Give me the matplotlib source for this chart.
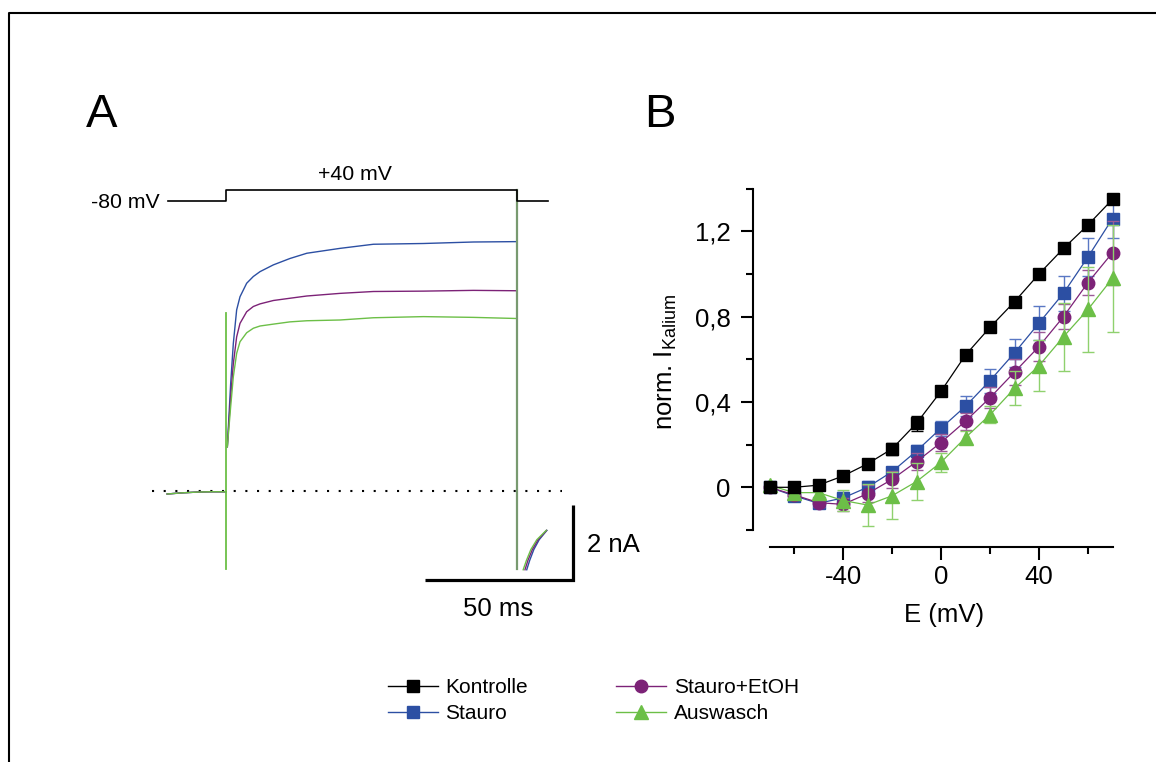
import numpy as np
import matplotlib.pyplot as plt
from matplotlib.lines import Line2D

plt.rcParams['font.family'] = ['Liberation Sans', 'DejaVu Sans']
plt.rcParams['mathtext.default'] = 'regular'

W, H = 1156, 762

# ---- panel A: current traces (ms, nA) ----
t_pre = [-19.9, -15.0, -10.0, -5.0, 0.0]
i_pre = [-0.08, -0.05, -0.03, -0.02, -0.02]

t_step = [0.45, 1.58, 2.48, 3.6, 4.73, 6.98, 9.23, 11.5, 16.0, 21.6, 27.3,
          38.5, 49.8, 66.7, 83.6, 98.2]
i_stauro = [1.18, 2.87, 3.94, 4.83, 5.18, 5.54, 5.72, 5.85, 6.03, 6.20, 6.34,
            6.47, 6.58, 6.60, 6.64, 6.65]
i_etoh = [1.18, 2.52, 3.40, 4.11, 4.47, 4.78, 4.92, 4.99, 5.08, 5.14, 5.20,
          5.27, 5.32, 5.33, 5.35, 5.34]
i_ausw = [1.18, 2.25, 3.05, 3.67, 3.98, 4.22, 4.34, 4.40, 4.45, 4.51, 4.54,
          4.56, 4.62, 4.65, 4.63, 4.60]

i_tail = [-2.1, -1.85, -1.56, -1.3, -1.05]
t_tail_ausw = [100.4, 101.5, 103.0, 105.0, 108.2]
t_tail_etoh = [101.0, 102.0, 103.5, 105.4, 108.3]
t_tail_stauro = [101.6, 102.6, 104.0, 105.8, 108.4]

spike_on = [-2.08, 4.75]
spike_off = [-2.08, 8.03]
t_off = 98.3

prot_t = [-19.6, 0.0, 0.0, 98.3, 98.3, 108.8]
prot_v = [-80, -80, 40, 40, -80, -80]

scale_t, scale_i = 50, 2

# ---- panel B: normalised I-V ----
E = [-70, -60, -50, -40, -30, -20, -10, 0, 10, 20, 30, 40, 50, 60, 70]
kontrolle = [0.0, 0.0, 0.01, 0.053, 0.11, 0.18, 0.30, 0.45, 0.62, 0.75, 0.87, 1.00, 1.12, 1.23, 1.35]
kontrolle_err = [0.01, 0.01, 0.01, 0.01, 0.01, 0.03, 0.035, 0.02, 0.01, 0.01, 0.01, 0.01, 0.01, 0.01, 0.01]
stauro = [0.0, -0.04, -0.075, -0.05, 0.0, 0.073, 0.17, 0.277, 0.38, 0.50, 0.63, 0.77, 0.91, 1.08, 1.26]
stauro_err = [0.01, 0.01, 0.02, 0.03, 0.03, 0.02, 0.03, 0.036, 0.048, 0.056, 0.067, 0.08, 0.082, 0.09, 0.09]
etoh = [0.0, -0.035, -0.072, -0.08, -0.03, 0.037, 0.12, 0.21, 0.31, 0.42, 0.54, 0.66, 0.80, 0.96, 1.10]
etoh_err = [0.01, 0.02, 0.02, 0.03, 0.04, 0.04, 0.04, 0.04, 0.04, 0.05, 0.06, 0.07, 0.06, 0.06, 0.15]
ausw = [0.01, -0.025, -0.025, -0.062, -0.083, -0.04, 0.027, 0.117, 0.233, 0.34, 0.464, 0.57, 0.706, 0.834, 0.98]
ausw_err = [0.01, 0.01, 0.02, 0.05, 0.10, 0.11, 0.085, 0.045, 0.03, 0.04, 0.08, 0.12, 0.16, 0.20, 0.25]

BLACK = '#000000'
BLUE = '#2c4fa3'
PURPLE = '#7c2277'
GREEN = '#6cbf47'


def fx(px):
    return px / W


def fy(py):
    return 1 - py / H


def fig_rect(left, top, right, bottom):
    return [left / W, 1 - bottom / H, (right - left) / W, (bottom - top) / H]


fig = plt.figure(figsize=(W / 100, H / 100), dpi=100)

# frame (only left and top edges are visible)
fig.add_artist(Line2D([fx(9.3), fx(9.3), 1.0], [0, fy(13), fy(13)], color='black', lw=1.5))

# ---------- panel A ----------
ms_px = 148 / 50   # pixels per ms
na_px = 75 / 2     # pixels per nA
t0_px, i0_px = 226, 491
ax_a = fig.add_axes(fig_rect(140, 150, 600, 600))
ax_a.set_xlim((140 - t0_px) / ms_px, (600 - t0_px) / ms_px)
ax_a.set_ylim((i0_px - 600) / na_px, (i0_px - 150) / na_px)
ax_a.axis('off')

ax_a.plot([-25, 113.5], [0, 0], ls=(0, (1, 4.6)), color='black', lw=1.5)
for i_step, t_tail, col in [(i_stauro, t_tail_stauro, BLUE),
                            (i_etoh, t_tail_etoh, PURPLE),
                            (i_ausw, t_tail_ausw, GREEN)]:
    ax_a.plot(t_pre, i_pre, color=col, lw=1)
    ax_a.plot(t_step, i_step, color=col, lw=1)
    ax_a.plot(t_tail, i_tail, color=col, lw=1)
ax_a.plot([0, 0], spike_on, color=GREEN, lw=1.3)
ax_a.plot([t_off, t_off], spike_off, color='#789a70', lw=1.6)

# scale bars
bar_t, bar_i = 117.2, -2.37
ax_a.plot([bar_t - scale_t, bar_t, bar_t], [bar_i, bar_i, bar_i + scale_i],
          color='black', lw=2.3, solid_joinstyle='miter', solid_capstyle='butt', clip_on=False)

# voltage protocol
mv_px = 11 / 120
ax_v = fig.add_axes(fig_rect(140, 150, 600, 600))
ax_v.set_xlim(ax_a.get_xlim())
ax_v.set_ylim(40 - (600 - 190) / mv_px, 40 + (190 - 150) / mv_px)
ax_v.axis('off')
ax_v.plot(prot_t, prot_v, color='black', lw=1.2)

fig.text(fx(160), fy(208), '-80 mV', ha='right', va='baseline', fontsize=15.3)
fig.text(fx(355), fy(180), '+40 mV', ha='center', va='baseline', fontsize=15.3)
fig.text(fx(587), fy(552), '2 nA', ha='left', va='baseline', fontsize=18.5)
fig.text(fx(498), fy(616), '50 ms', ha='center', va='baseline', fontsize=18.5)
fig.text(fx(86), fy(127), 'A', ha='left', va='baseline', fontsize=34)
fig.text(fx(644), fy(127), 'B', ha='left', va='baseline', fontsize=34)

# ---------- panel B ----------
e_px = 2.45
e0_px, y0_px, n_px = 941, 487.3, 213.3
ax_b = fig.add_axes(fig_rect(753, 184, 1118, 547))
ax_b.set_xlim((753 - e0_px) / e_px, (1118 - e0_px) / e_px)
ax_b.set_ylim((y0_px - 547) / n_px, (y0_px - 184) / n_px)
ax_b.patch.set_alpha(0)
for s in ['top', 'right']:
    ax_b.spines[s].set_visible(False)
ax_b.spines['left'].set_bounds(-0.2, 1.4)
ax_b.spines['bottom'].set_bounds(-70, 70)
for s in ['left', 'bottom']:
    ax_b.spines[s].set_linewidth(1.5)

ax_b.set_xticks([-40, 0, 40])
ax_b.set_xticklabels(['-40', '0', '40'])
ax_b.set_xticks([-60, -20, 20, 60], minor=True)
ax_b.set_yticks([0, 0.4, 0.8, 1.2])
ax_b.set_yticklabels(['0', '0,4', '0,8', '1,2'])
ax_b.set_yticks([-0.2, 0.2, 0.6, 1.0, 1.4], minor=True)
ax_b.tick_params(which='major', length=9, width=1.5, labelsize=18.5, pad=4)
ax_b.tick_params(which='minor', length=5, width=1.5)
ax_b.tick_params(axis='y', which='major', pad=7)

series = [
    ('Kontrolle', kontrolle, kontrolle_err, BLACK, BLACK, 's', 8.5, 5),
    ('Stauro', stauro, stauro_err, BLUE, '#5a78c4', 's', 8.0, 2),
    ('Stauro+EtOH', etoh, etoh_err, PURPLE, '#9c5a98', 'o', 9.0, 3),
    ('Auswasch', ausw, ausw_err, GREEN, '#8fd16e', '^', 10.0, 4),
]
handles = []
for label, vals, err, col, ecol, mk, ms, z in series:
    ax_b.errorbar(E, vals, yerr=err, color=col, ecolor=ecol, marker=mk, ms=ms, mec=col,
                  lw=0.9, elinewidth=1, capsize=4, capthick=1, zorder=z, clip_on=False)
    handles.append(Line2D([], [], color=col, marker=mk, ms=ms, mec=col, lw=1, label=label))

fig.text(fx(944), fy(622), 'E (mV)', ha='center', va='baseline', fontsize=18.5)
fig.text(fx(666), fy(362), 'norm. I$_{Kalium}$', ha='center', va='center',
         rotation=90, fontsize=18.5)

fig.legend(handles=handles, ncol=2, loc='upper left', bbox_to_anchor=(fx(388), fy(678)),
           frameon=False, fontsize=15, handlelength=2.4, handletextpad=0.35,
           columnspacing=4.25, labelspacing=0.35, borderpad=0, borderaxespad=0)

fig.savefig('out.png', dpi=100)
